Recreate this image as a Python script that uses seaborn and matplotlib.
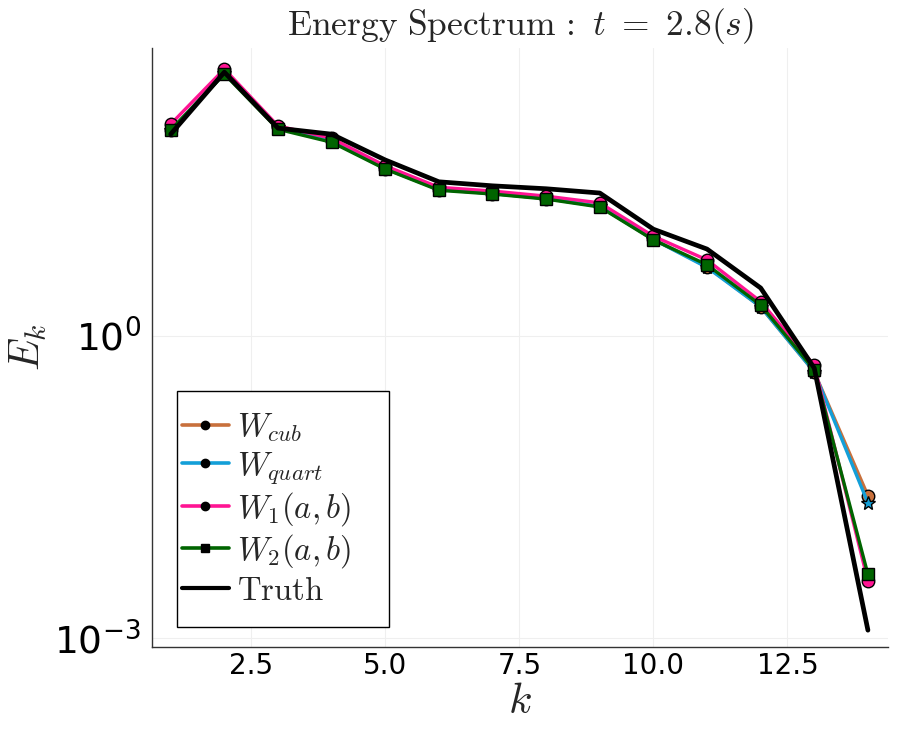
import numpy as np
import pandas as pd
import seaborn as sns
import matplotlib.pyplot as plt
from matplotlib.lines import Line2D
from matplotlib.patches import Rectangle

sns.set_style("white")
plt.rcParams['font.family'] = ['DejaVu Sans']
plt.rcParams['mathtext.fontset'] = 'cm'

k = [1, 2, 3, 4, 5, 6, 7, 8, 9, 10, 11, 12, 13, 14]
w_cub = [110, 405, 118, 86, 46, 28.5, 26, 23.2, 19.4, 9.1, 4.9, 1.95, 0.44, 0.026]
w_quart = [110, 405, 118, 86, 46, 28.5, 26, 23.2, 19.4, 9.1, 4.8, 1.95, 0.44, 0.022]
w_1 = [127, 448, 122, 92, 49, 30, 27.5, 24.5, 21, 9.8, 5.7, 2.2, 0.51, 0.0037]
w_2 = [111, 400, 113, 84, 45.5, 28, 25.7, 22.9, 19.1, 9.0, 5.1, 2.03, 0.46, 0.0043]
truth = [101, 417, 116, 101, 56, 34, 31, 29, 26.3, 11.5, 7.3, 3.0, 0.48, 0.0012]

df = pd.DataFrame({"k": k, "cub": w_cub, "quart": w_quart,
                   "w1": w_1, "w2": w_2, "truth": truth})

fig = plt.figure(figsize=(9, 7.5), dpi=100)
ax = fig.add_axes([0.169, 0.1373, 0.818, 0.7987])

# series: column, color, marker, marker size
series = [
    ("cub", "#c8703c", "o", 9),
    ("quart", "#139fd8", "*", 10),
    ("w1", "#ff1493", "o", 9),
    ("w2", "#006400", "s", 8.5),
]
for col, c, m, ms in series:
    sns.lineplot(data=df, x="k", y=col, ax=ax, color=c, linewidth=2.4,
                 marker=m, markersize=ms, markerfacecolor=c,
                 markeredgecolor="black", markeredgewidth=1.0)
sns.lineplot(data=df, x="k", y="truth", ax=ax, color="black", linewidth=3.4)

ax.set_yscale("log")
ax.set_xlim(0.653, 14.38)
ax.set_ylim(10 ** -3.088, 10 ** 2.86)
ax.set_xticks([2.5, 5.0, 7.5, 10.0, 12.5])
ax.set_xticklabels(["2.5", "5.0", "7.5", "10.0", "12.5"])
ax.set_yticks([1e-3, 1e0])
ax.set_yticklabels([r"$10^{-3}$", r"$10^{0}$"])
ax.yaxis.set_minor_locator(plt.NullLocator())
ax.tick_params(axis="both", direction="in", length=5, width=1, colors="black")
ax.tick_params(axis="x", labelsize=20)
ax.tick_params(axis="y", labelsize=27, pad=8)
for t in ax.get_yticklabels():
    t.set_math_fontfamily("dejavusans")
ax.grid(True, color="#efefef", linewidth=0.8)

for s in ["top", "right"]:
    ax.spines[s].set_visible(False)
for s in ["left", "bottom"]:
    ax.spines[s].set_color("#333333")
    ax.spines[s].set_linewidth(1.0)

ax.set_xlabel(r"$k$", fontsize=31, labelpad=0)
ax.set_ylabel(r"$E_k$", fontsize=30, labelpad=4)
ax.set_title(r"$\mathrm{Energy\ Spectrum\,:\ }t\ =\ 2.8(s)$", fontsize=25.5, pad=9)

handles = [
    Line2D([], [], color="#c8703c", lw=2.6, marker="o", ms=6, mfc="black", mec="black"),
    Line2D([], [], color="#139fd8", lw=2.6, marker="o", ms=6, mfc="black", mec="black"),
    Line2D([], [], color="#ff1493", lw=2.6, marker="o", ms=6, mfc="black", mec="black"),
    Line2D([], [], color="#006400", lw=2.6, marker="s", ms=5.5, mfc="black", mec="black"),
    Line2D([], [], color="black", lw=3),
]
labels = [r"$W_{cub}$", r"$W_{quart}$", r"$W_1(a,b)$", r"$W_2(a,b)$", r"$\mathrm{Truth}$"]
ax.add_patch(Rectangle((0.034, 0.0334), 0.288, 0.394, transform=ax.transAxes,
                       facecolor="white", edgecolor="black", linewidth=1.0, zorder=5))
leg = ax.legend(handles, labels, loc="center left", bbox_to_anchor=(0.040, 0.231),
                fontsize=23.5, frameon=False, handlelength=1.45, handletextpad=0.25,
                labelspacing=0.12, borderpad=0, borderaxespad=0)
leg.set_zorder(6)

fig.savefig("out.png", dpi=100)
